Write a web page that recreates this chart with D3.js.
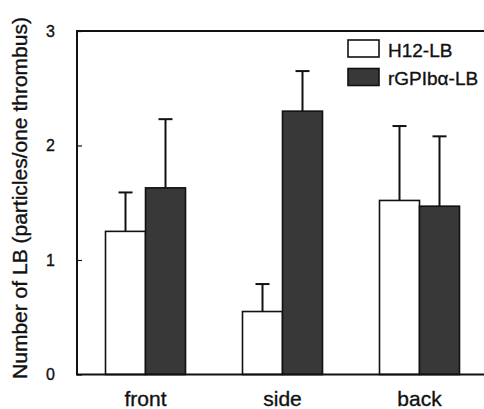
<!DOCTYPE html>
<html><head><meta charset="utf-8">
<script src="https://cdn.jsdelivr.net/npm/d3@7"></script>
<style>body{margin:0;background:#fff}svg{display:block}text{font-family:"Liberation Sans",Arial,sans-serif;fill:#111;stroke:#111;stroke-width:0.35px}</style>
</head><body>
<svg id="c" width="484" height="409"></svg>
<script>
const categories = ["front", "side", "back"];
const seriesNames = ["H12-LB", "rGPIb\u03b1-LB"];
const h12Values = [1.25, 0.55, 1.52];
const h12Errors = [0.34, 0.24, 0.65];
const rgpValues = [1.63, 2.30, 1.47];
const rgpErrors = [0.60, 0.35, 0.61];
const yTicks = [0, 1, 2, 3];

(function () {
const svg = d3.select("#c");
const mLeft = 77, mTop = 31, mBottom = 374.5, mRight = 488;
const x = d3.scaleBand().domain(categories).range([mLeft, mRight]).padding(0);
const y = d3.scaleLinear().domain([0, 3]).range([mBottom, mTop]);
const barW = 40;
const fills = ["#ffffff", "#383838"];
const data = [];
categories.forEach((c, i) => {
  data.push({c, s: 0, v: h12Values[i], e: h12Errors[i]});
  data.push({c, s: 1, v: rgpValues[i], e: rgpErrors[i]});
});
const cx = d => x(d.c) + x.bandwidth() / 2 + (d.s === 0 ? -barW / 2 : barW / 2);

// error bars
const eb = svg.append("g").attr("stroke", "#111").attr("stroke-width", 2);
eb.selectAll("line.v").data(data).join("line").attr("class", "v")
  .attr("x1", cx).attr("x2", cx).attr("y1", d => y(d.v)).attr("y2", d => y(d.v + d.e));
eb.selectAll("line.c").data(data).join("line").attr("class", "c")
  .attr("x1", d => cx(d) - 7).attr("x2", d => cx(d) + 7)
  .attr("y1", d => y(d.v + d.e)).attr("y2", d => y(d.v + d.e));

// bars
svg.append("g").selectAll("rect").data(data).join("rect")
  .attr("x", d => cx(d) - barW / 2).attr("width", barW)
  .attr("y", d => y(d.v)).attr("height", d => y(0) - y(d.v))
  .attr("fill", d => fills[d.s]).attr("stroke", "#111").attr("stroke-width", 1.6);

// axes frame
const yAxis = d3.axisLeft(y).tickValues(yTicks).tickSize(-5).tickPadding(22).tickFormat(d3.format("d"));
const ga = svg.append("g").attr("transform", `translate(${mLeft},0)`).call(yAxis);
ga.select(".domain").remove();
ga.selectAll(".tick line").attr("stroke", "#111").attr("stroke-width", 1.2);
ga.selectAll(".tick text").attr("font-size", 16).attr("fill", "#111")
  .style("font-family", '"Liberation Sans",Arial,sans-serif');
svg.append("line").attr("x1", mLeft).attr("x2", mLeft).attr("y1", mTop - 1).attr("y2", mBottom + 1)
  .attr("stroke", "#111").attr("stroke-width", 2);
svg.append("line").attr("x1", mLeft).attr("x2", mRight).attr("y1", mTop).attr("y2", mTop)
  .attr("stroke", "#111").attr("stroke-width", 2);
svg.append("line").attr("x1", mLeft).attr("x2", mRight).attr("y1", mBottom).attr("y2", mBottom)
  .attr("stroke", "#111").attr("stroke-width", 2);

// x labels
svg.append("g").selectAll("text").data(categories).join("text")
  .attr("x", d => x(d) + x.bandwidth() / 2).attr("y", 406)
  .attr("text-anchor", "middle").attr("font-size", 21).text(d => d);

// y title
svg.append("text").attr("transform", "translate(27,198) rotate(-90)")
  .attr("text-anchor", "middle").attr("font-size", 21)
  .text("Number of LB (particles/one thrombus)");

// legend
const lg = svg.append("g");
seriesNames.forEach((n, i) => {
  const yy = 40 + i * 28.5;
  lg.append("rect").attr("x", 348).attr("y", yy).attr("width", 31).attr("height", 17)
    .attr("fill", fills[i]).attr("stroke", "#111").attr("stroke-width", 1.6);
  lg.append("text").attr("x", 388).attr("y", yy + 16.5).attr("font-size", 19).text(n);
});
})();
</script>
</body></html>
